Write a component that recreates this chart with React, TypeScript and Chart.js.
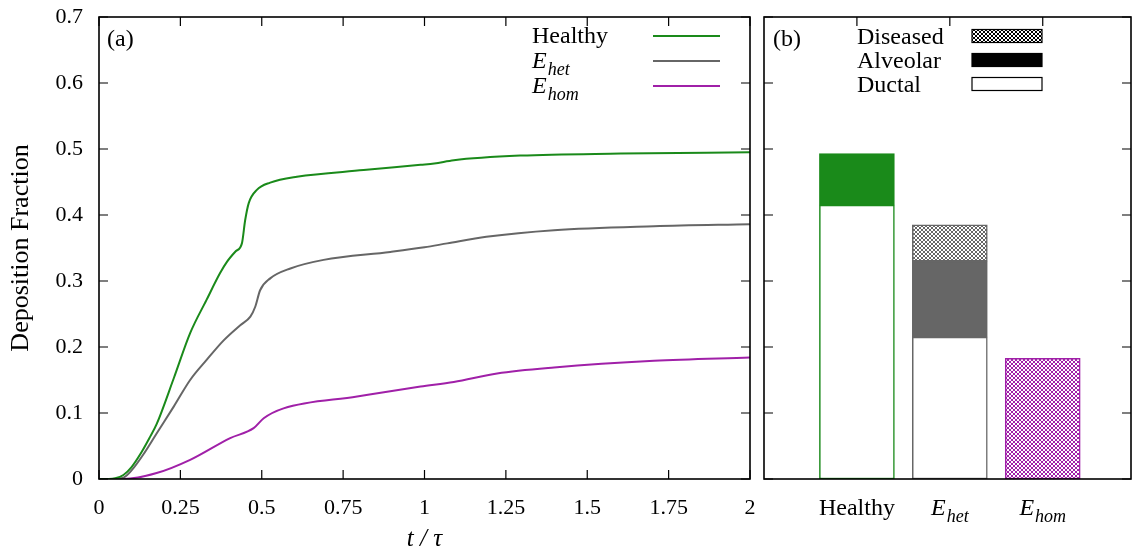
import React, { useEffect, useRef } from "react";
import { Chart, registerables } from "chart.js";

Chart.register(...registerables);

// ---------- data (panel a) ----------
const healthyT = [0, 0.03, 0.05, 0.075, 0.1, 0.13, 0.155, 0.177, 0.23, 0.28, 0.33, 0.372, 0.393, 0.42, 0.439, 0.449, 0.46, 0.485, 0.526, 0.608, 0.813, 0.988, 1.03, 1.09, 1.295, 1.603, 2.0];
const healthyV = [0, 0.0, 0.001, 0.006, 0.018, 0.04, 0.062, 0.083, 0.153, 0.221, 0.271, 0.312, 0.329, 0.345, 0.357, 0.392, 0.418, 0.438, 0.449, 0.458, 0.468, 0.476, 0.478, 0.483, 0.49, 0.493, 0.495];

const hetT = [0, 0.04, 0.075, 0.1, 0.14, 0.177, 0.23, 0.28, 0.33, 0.383, 0.434, 0.465, 0.48, 0.495, 0.526, 0.588, 0.69, 0.895, 1.0, 1.07, 1.19, 1.398, 1.705, 2.0];
const hetV = [0, 0, 0.002, 0.013, 0.04, 0.069, 0.11, 0.15, 0.18, 0.21, 0.233, 0.246, 0.261, 0.286, 0.304, 0.319, 0.332, 0.344, 0.351, 0.357, 0.367, 0.377, 0.383, 0.386];

const homT = [0, 0.075, 0.177, 0.28, 0.403, 0.475, 0.506, 0.567, 0.793, 0.988, 1.09, 1.223, 1.398, 1.705, 2.0];
const homV = [0, 0, 0.009, 0.029, 0.062, 0.077, 0.092, 0.107, 0.125, 0.14, 0.147, 0.16, 0.169, 0.179, 0.184];

const xTicks = [0, 0.25, 0.5, 0.75, 1, 1.25, 1.5, 1.75, 2];
const xTickLabels = ["0", "0.25", "0.5", "0.75", "1", "1.25", "1.5", "1.75", "2"];
const yTicks = [0, 0.1, 0.2, 0.3, 0.4, 0.5, 0.6, 0.7];
const yTickLabels = ["0", "0.1", "0.2", "0.3", "0.4", "0.5", "0.6", "0.7"];

// ---------- data (panel b) ----------
const categories = ["Healthy", "E_het", "E_hom"];
const categoryPos = [0, 1, 2];
const ductal = [0.415, 0.215, null];
const alveolar = [0.078, 0.115, null];
const diseased = [null, 0.055, 0.183];

const GREEN = "#1a8a1a";
const GRAY = "#666666";
const PURPLE = "#a020a8";
const FONT = "'Liberation Serif', 'DejaVu Serif', serif";

function makeHatch(color: string) {
  const c = document.createElement("canvas");
  c.width = 4;
  c.height = 4;
  const g = c.getContext("2d")!;
  g.fillStyle = "#ffffff";
  g.fillRect(0, 0, 4, 4);
  g.strokeStyle = color;
  g.lineWidth = 1;
  g.beginPath();
  g.moveTo(0, 0);
  g.lineTo(4, 4);
  g.moveTo(4, 0);
  g.lineTo(0, 4);
  g.stroke();
  return g.createPattern(c, "repeat")!;
}

function drawLabel(ctx: CanvasRenderingContext2D, text: string, x: number, y: number, align: "left" | "center", size: number) {
  ctx.save();
  ctx.textBaseline = "alphabetic";
  ctx.textAlign = "left";
  ctx.fillStyle = "#000";
  if (text.startsWith("E_")) {
    const main = "E";
    const sub = text.slice(2);
    const mainFont = `italic ${size}px ${FONT}`;
    const subFont = `italic ${Math.round(size * 0.75)}px ${FONT}`;
    ctx.font = mainFont;
    const w1 = ctx.measureText(main).width;
    ctx.font = subFont;
    const w2 = ctx.measureText(sub).width;
    const total = w1 + w2 + 1;
    const x0 = align === "center" ? x - total / 2 : x;
    ctx.font = mainFont;
    ctx.fillText(main, x0, y);
    ctx.font = subFont;
    ctx.fillText(sub, x0 + w1 + 1, y + size * 0.28);
  } else {
    ctx.font = `${size}px ${FONT}`;
    const w = ctx.measureText(text).width;
    ctx.fillText(text, align === "center" ? x - w / 2 : x, y);
  }
  ctx.restore();
}

function drawFrame(ctx: CanvasRenderingContext2D, a: { left: number; right: number; top: number; bottom: number }) {
  ctx.save();
  ctx.strokeStyle = "#000";
  ctx.lineWidth = 1.6;
  ctx.strokeRect(a.left, a.top, a.right - a.left, a.bottom - a.top);
  ctx.restore();
}

const TICK = 9;

const zeroPad = (s: any) => {
  s.paddingTop = 0;
  s.paddingBottom = 0;
  s.paddingLeft = 0;
  s.paddingRight = 0;
};

const leftPlugin = {
  id: "leftDecor",
  afterDraw(chart: any) {
    const ctx: CanvasRenderingContext2D = chart.ctx;
    const a = chart.chartArea;
    const xs = chart.scales.x;
    const ys = chart.scales.y;
    drawFrame(ctx, a);
    ctx.save();
    ctx.strokeStyle = "#000";
    ctx.lineWidth = 1.2;
    ctx.beginPath();
    xTicks.forEach((v) => {
      const px = xs.getPixelForValue(v);
      ctx.moveTo(px, a.bottom);
      ctx.lineTo(px, a.bottom - TICK);
      ctx.moveTo(px, a.top);
      ctx.lineTo(px, a.top + TICK);
    });
    yTicks.forEach((v) => {
      const py = ys.getPixelForValue(v);
      ctx.moveTo(a.left, py);
      ctx.lineTo(a.left + TICK, py);
      ctx.moveTo(a.right, py);
      ctx.lineTo(a.right - TICK, py);
    });
    ctx.stroke();
    ctx.restore();

    drawLabel(ctx, "(a)", 107, 46, "left", 24);

    const items = [
      { label: "Healthy", color: GREEN, y: 36 },
      { label: "E_het", color: GRAY, y: 61 },
      { label: "E_hom", color: PURPLE, y: 86 },
    ];
    items.forEach((it) => {
      drawLabel(ctx, it.label, 532, it.y + 7, "left", 24);
      ctx.save();
      ctx.strokeStyle = it.color;
      ctx.lineWidth = 2;
      ctx.beginPath();
      ctx.moveTo(653, it.y);
      ctx.lineTo(720, it.y);
      ctx.stroke();
      ctx.restore();
    });
  },
};

export default function App() {
  const leftRef = useRef<HTMLCanvasElement>(null);
  const rightRef = useRef<HTMLCanvasElement>(null);

  useEffect(() => {
    document.body.style.margin = "0";
    const toXY = (t: number[], v: number[]) => t.map((x, i) => ({ x, y: v[i] }));

    const lineDs = (label: string, t: number[], v: number[], color: string) => ({
      label,
      data: toXY(t, v),
      borderColor: color,
      backgroundColor: color,
      borderWidth: 2,
      pointRadius: 0,
      fill: false,
      cubicInterpolationMode: "monotone" as const,
    });

    const left = new Chart(leftRef.current!, {
      type: "line",
      data: {
        datasets: [
          lineDs("Healthy", healthyT, healthyV, GREEN),
          lineDs("E_het", hetT, hetV, GRAY),
          lineDs("E_hom", homT, homV, PURPLE),
        ],
      },
      options: {
        animation: false,
        responsive: false,
        devicePixelRatio: 1,
        layout: { padding: { top: 17, right: 10, left: 0, bottom: 0 } },
        plugins: { legend: { display: false }, tooltip: { enabled: false } },
        scales: {
          x: {
            type: "linear",
            min: 0,
            max: 2,
            grid: { display: false, drawTicks: false },
            border: { display: false },
            afterBuildTicks: (s: any) => {
              s.ticks = xTicks.map((v) => ({ value: v }));
            },
            afterFit: (s: any) => {
              s.height = 79;
              zeroPad(s);
            },
            ticks: {
              color: "#000",
              font: { family: FONT, size: 22 },
              padding: 16,
              maxRotation: 0,
              autoSkip: false,
              callback: (_v: any, i: number) => xTickLabels[i],
            },
            title: {
              display: true,
              text: "t / τ",
              color: "#000",
              font: { family: FONT, size: 25, style: "italic" },
              padding: { top: 0, bottom: 4 },
            },
          },
          y: {
            type: "linear",
            min: 0,
            max: 0.7,
            grid: { display: false, drawTicks: false },
            border: { display: false },
            afterBuildTicks: (s: any) => {
              s.ticks = yTicks.map((v) => ({ value: v }));
            },
            afterFit: (s: any) => {
              s.width = 99;
              zeroPad(s);
            },
            ticks: {
              color: "#000",
              font: { family: FONT, size: 22 },
              padding: 16,
              autoSkip: false,
              callback: (_v: any, i: number) => yTickLabels[i],
            },
            title: {
              display: true,
              text: "Deposition Fraction",
              color: "#000",
              font: { family: FONT, size: 26 },
              padding: { top: 6, bottom: 0 },
            },
          },
        },
      },
      plugins: [leftPlugin],
    });

    const grayHatch = makeHatch(GRAY);
    const purpleHatch = makeHatch(PURPLE);
    const blackHatch = makeHatch("#000000");

    const rightPlugin = {
      id: "rightDecor",
      afterDraw(chart: any) {
        const ctx: CanvasRenderingContext2D = chart.ctx;
        const a = chart.chartArea;
        const xs = chart.scales.x;
        const ys = chart.scales.y;
        drawFrame(ctx, a);
        ctx.save();
        ctx.strokeStyle = "#000";
        ctx.lineWidth = 1.2;
        ctx.beginPath();
        categoryPos.forEach((v) => {
          const px = xs.getPixelForValue(v);
          ctx.moveTo(px, a.top);
          ctx.lineTo(px, a.top + TICK);
        });
        yTicks.forEach((v) => {
          const py = ys.getPixelForValue(v);
          ctx.moveTo(a.left, py);
          ctx.lineTo(a.left + TICK, py);
          ctx.moveTo(a.right, py);
          ctx.lineTo(a.right - TICK, py);
        });
        ctx.stroke();
        ctx.restore();

        categories.forEach((c, i) => {
          drawLabel(ctx, c, xs.getPixelForValue(categoryPos[i]), 515, "center", 24);
        });

        drawLabel(ctx, "(b)", 13, 46, "left", 24);

        const lx = 857 - 760;
        const bx = 972 - 760;
        const bw = 70;
        const bh = 13;
        const rows = [
          { label: "Diseased", y: 36, fill: blackHatch as any },
          { label: "Alveolar", y: 60, fill: "#000" as any },
          { label: "Ductal", y: 84, fill: "#fff" as any },
        ];
        rows.forEach((r) => {
          drawLabel(ctx, r.label, lx, r.y + 8, "left", 24);
          ctx.save();
          ctx.fillStyle = r.fill;
          ctx.fillRect(bx, r.y - bh / 2, bw, bh);
          ctx.strokeStyle = "#000";
          ctx.lineWidth = 1.2;
          ctx.strokeRect(bx, r.y - bh / 2, bw, bh);
          ctx.restore();
        });
      },
    };

    const barDs = (label: string, vals: (number | null)[], bg: any[], bd: string[]) => ({
      label,
      data: categoryPos.map((x, i) => ({ x, y: vals[i] })),
      backgroundColor: bg,
      borderColor: bd,
      borderWidth: 1.5,
      borderSkipped: false as const,
      barThickness: 75,
    });

    const right = new Chart(rightRef.current!, {
      type: "bar",
      data: {
        datasets: [
          barDs("Ductal", ductal, ["#ffffff", "#ffffff", "#ffffff"], [GREEN, GRAY, PURPLE]),
          barDs("Alveolar", alveolar, [GREEN, GRAY, PURPLE], [GREEN, GRAY, PURPLE]),
          barDs("Diseased", diseased, [blackHatch, grayHatch, purpleHatch], [GREEN, GRAY, PURPLE]),
        ] as any,
      },
      options: {
        animation: false,
        responsive: false,
        devicePixelRatio: 1,
        layout: { padding: { top: 17, right: 2, left: 4, bottom: 0 } },
        plugins: { legend: { display: false }, tooltip: { enabled: false } },
        scales: {
          x: {
            type: "linear",
            min: -1,
            max: 2.95,
            offset: false,
            stacked: true,
            grid: { display: false, drawTicks: false, offset: false },
            border: { display: false },
            ticks: { display: false },
            afterFit: (s: any) => {
              s.height = 79;
              zeroPad(s);
            },
          },
          y: {
            type: "linear",
            min: 0,
            max: 0.7,
            stacked: true,
            grid: { display: false, drawTicks: false },
            border: { display: false },
            ticks: { display: false },
            afterFit: (s: any) => {
              s.width = 0;
              zeroPad(s);
            },
          },
        },
      },
      plugins: [rightPlugin],
    });

    return () => {
      left.destroy();
      right.destroy();
    };
  }, []);

  return (
    <div style={{ position: "relative", width: 1133, height: 558, background: "#fff" }}>
      <canvas ref={leftRef} width={760} height={558} style={{ position: "absolute", left: 0, top: 0, width: 760, height: 558 }} />
      <canvas ref={rightRef} width={373} height={558} style={{ position: "absolute", left: 760, top: 0, width: 373, height: 558 }} />
    </div>
  );
}
